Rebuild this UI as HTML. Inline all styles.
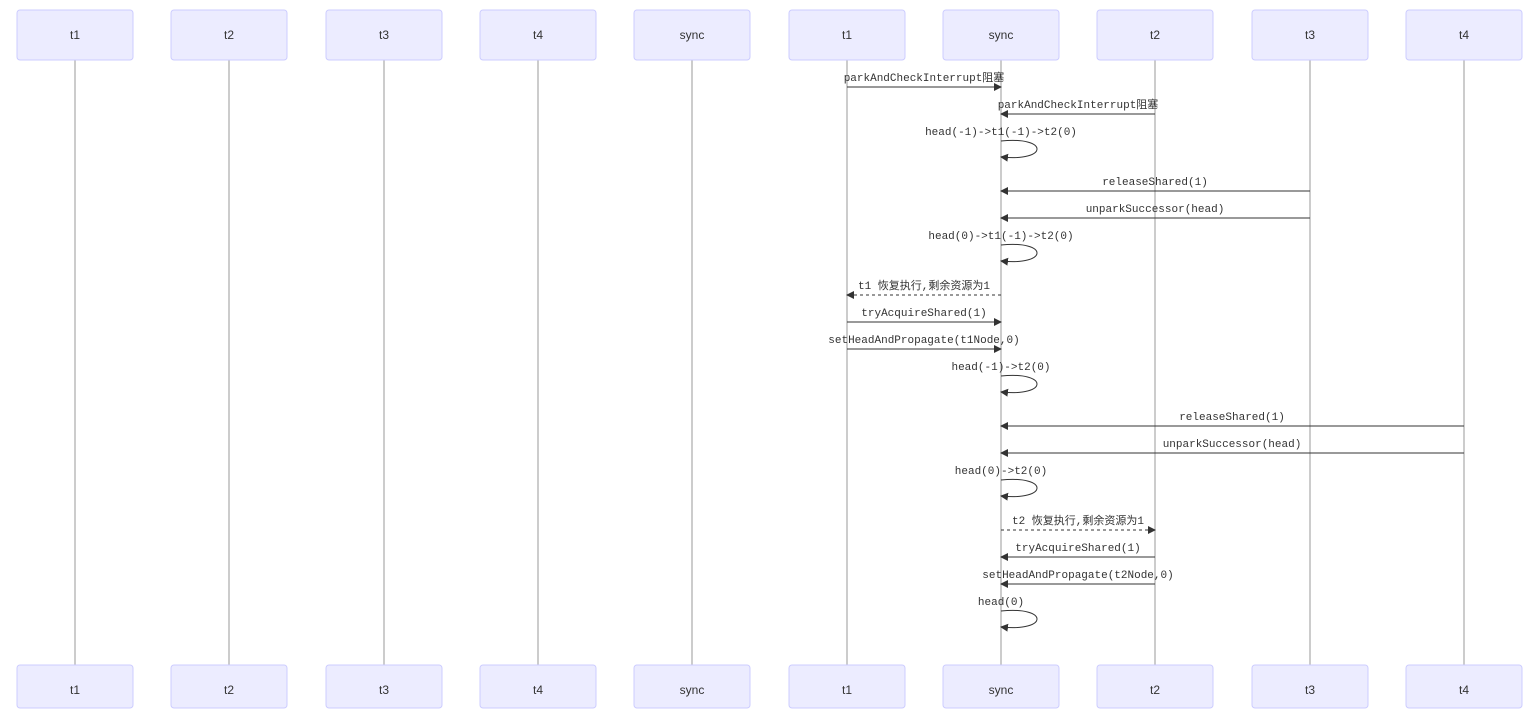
<!DOCTYPE html>
<html><head><meta charset="utf-8"><style>
body{margin:0;background:#fff}
text{font-family:"Liberation Mono","Noto Sans CJK SC",monospace;font-size:11px;fill:#333}
.p{font-family:"Liberation Sans",sans-serif;font-size:12px;fill:#333}
</style></head><body>
<svg width="1537" height="723" xmlns="http://www.w3.org/2000/svg">
<defs>
<marker id="a" markerWidth="8" markerHeight="8" refX="7" refY="4" orient="auto" markerUnits="userSpaceOnUse"><path d="M0,0 L8,4 L0,8 z" fill="#333"/></marker>
</defs>
<g id="parts">
<g stroke="#999" stroke-width="1">
<line x1="75" y1="60" x2="75" y2="665"/><line x1="229" y1="60" x2="229" y2="665"/><line x1="384" y1="60" x2="384" y2="665"/><line x1="538" y1="60" x2="538" y2="665"/><line x1="692" y1="60" x2="692" y2="665"/><line x1="847" y1="60" x2="847" y2="665"/><line x1="1001" y1="60" x2="1001" y2="665"/><line x1="1155" y1="60" x2="1155" y2="665"/><line x1="1310" y1="60" x2="1310" y2="665"/><line x1="1464" y1="60" x2="1464" y2="665"/>
</g>
<g fill="#ECECFF" stroke="#CCCCFF" stroke-width="1">
<rect x="17" y="10" width="116" height="50" rx="3"/><rect x="171" y="10" width="116" height="50" rx="3"/><rect x="326" y="10" width="116" height="50" rx="3"/><rect x="480" y="10" width="116" height="50" rx="3"/><rect x="634" y="10" width="116" height="50" rx="3"/><rect x="789" y="10" width="116" height="50" rx="3"/><rect x="943" y="10" width="116" height="50" rx="3"/><rect x="1097" y="10" width="116" height="50" rx="3"/><rect x="1252" y="10" width="116" height="50" rx="3"/><rect x="1406" y="10" width="116" height="50" rx="3"/>
<rect x="17" y="665" width="116" height="43" rx="3"/><rect x="171" y="665" width="116" height="43" rx="3"/><rect x="326" y="665" width="116" height="43" rx="3"/><rect x="480" y="665" width="116" height="43" rx="3"/><rect x="634" y="665" width="116" height="43" rx="3"/><rect x="789" y="665" width="116" height="43" rx="3"/><rect x="943" y="665" width="116" height="43" rx="3"/><rect x="1097" y="665" width="116" height="43" rx="3"/><rect x="1252" y="665" width="116" height="43" rx="3"/><rect x="1406" y="665" width="116" height="43" rx="3"/>
</g>
<g class="p" text-anchor="middle">
<text class="p" x="75" y="39" text-anchor="middle">t1</text><text class="p" x="229" y="39" text-anchor="middle">t2</text><text class="p" x="384" y="39" text-anchor="middle">t3</text><text class="p" x="538" y="39" text-anchor="middle">t4</text><text class="p" x="692" y="39" text-anchor="middle">sync</text><text class="p" x="847" y="39" text-anchor="middle">t1</text><text class="p" x="1001" y="39" text-anchor="middle">sync</text><text class="p" x="1155" y="39" text-anchor="middle">t2</text><text class="p" x="1310" y="39" text-anchor="middle">t3</text><text class="p" x="1464" y="39" text-anchor="middle">t4</text>
<text class="p" x="75" y="694" text-anchor="middle">t1</text><text class="p" x="229" y="694" text-anchor="middle">t2</text><text class="p" x="384" y="694" text-anchor="middle">t3</text><text class="p" x="538" y="694" text-anchor="middle">t4</text><text class="p" x="692" y="694" text-anchor="middle">sync</text><text class="p" x="847" y="694" text-anchor="middle">t1</text><text class="p" x="1001" y="694" text-anchor="middle">sync</text><text class="p" x="1155" y="694" text-anchor="middle">t2</text><text class="p" x="1310" y="694" text-anchor="middle">t3</text><text class="p" x="1464" y="694" text-anchor="middle">t4</text>
</g>
</g>
<g stroke="#333" stroke-width="1" fill="none" marker-end="url(#a)">
<line x1="847" y1="87" x2="1001" y2="87"/>
<line x1="1155" y1="114" x2="1001" y2="114"/>
<path d="M1001,141 C1049,136 1049,162 1001,157"/>
<line x1="1310" y1="191" x2="1001" y2="191"/>
<line x1="1310" y1="218" x2="1001" y2="218"/>
<path d="M1001,245 C1049,240 1049,266 1001,261"/>
<line x1="1001" y1="295" x2="847" y2="295" stroke-dasharray="3,3"/>
<line x1="847" y1="322" x2="1001" y2="322"/>
<line x1="847" y1="349" x2="1001" y2="349"/>
<path d="M1001,376 C1049,371 1049,397 1001,392"/>
<line x1="1464" y1="426" x2="1001" y2="426"/>
<line x1="1464" y1="453" x2="1001" y2="453"/>
<path d="M1001,480 C1049,475 1049,501 1001,496"/>
<line x1="1001" y1="530" x2="1155" y2="530" stroke-dasharray="3,3"/>
<line x1="1155" y1="557" x2="1001" y2="557"/>
<line x1="1155" y1="584" x2="1001" y2="584"/>
<path d="M1001,611 C1049,606 1049,632 1001,627"/>
</g>
<g text-anchor="middle">
<text x="924" y="81">parkAndCheckInterrupt阻塞</text>
<text x="1078" y="108">parkAndCheckInterrupt阻塞</text>
<text x="1001" y="135">head(-1)-&gt;t1(-1)-&gt;t2(0)</text>
<text x="1155" y="185">releaseShared(1)</text>
<text x="1155" y="212">unparkSuccessor(head)</text>
<text x="1001" y="239">head(0)-&gt;t1(-1)-&gt;t2(0)</text>
<text x="924" y="289">t1 恢复执行,剩余资源为1</text>
<text x="924" y="316">tryAcquireShared(1)</text>
<text x="924" y="343">setHeadAndPropagate(t1Node,0)</text>
<text x="1001" y="370">head(-1)-&gt;t2(0)</text>
<text x="1232" y="420">releaseShared(1)</text>
<text x="1232" y="447">unparkSuccessor(head)</text>
<text x="1001" y="474">head(0)-&gt;t2(0)</text>
<text x="1078" y="524">t2 恢复执行,剩余资源为1</text>
<text x="1078" y="551">tryAcquireShared(1)</text>
<text x="1078" y="578">setHeadAndPropagate(t2Node,0)</text>
<text x="1001" y="605">head(0)</text>
</g>
</svg>
</body></html>
